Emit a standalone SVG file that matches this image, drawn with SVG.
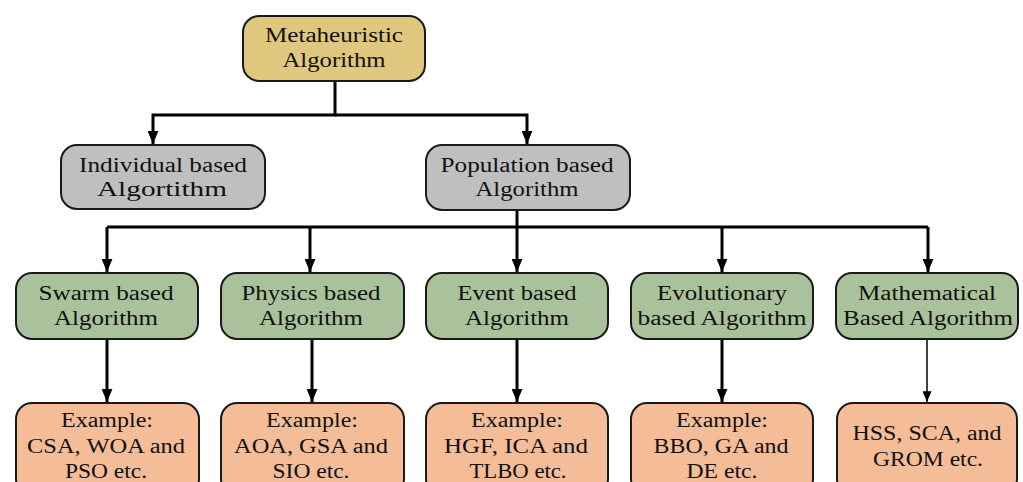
<svg xmlns="http://www.w3.org/2000/svg" width="1023" height="482" viewBox="0 0 1023 482">
<style>
  .box { stroke: #1a1a1a; stroke-width: 2; }
  .top { fill: #e0c77e; }
  .gray { fill: #bfbfbf; }
  .green { fill: #a9c29b; }
  .orange { fill: #f5bc98; }
  text { font-family: "Liberation Serif", "DejaVu Serif", serif; font-size: 20.5px; fill: #111; text-anchor: middle; }
  .conn { fill: none; stroke: #000; stroke-width: 3; }
  .thin { fill: none; stroke: #000; stroke-width: 1.5; }
</style>
<defs>
  <marker id="arr" viewBox="0 0 10 12" markerWidth="11" markerHeight="13" refX="5" refY="12" orient="auto-start-reverse" markerUnits="userSpaceOnUse">
    <path d="M0,0 L10,0 L5,12 Z" fill="#000" transform="rotate(-90 5 6)"/>
  </marker>
  <marker id="ar" viewBox="0 0 12 10" markerWidth="13" markerHeight="11" refX="12" refY="5" orient="auto" markerUnits="userSpaceOnUse">
    <path d="M0,0 L12,5 L0,10 Z" fill="#000"/>
  </marker>
  <marker id="ars" viewBox="0 0 12 10" markerWidth="11" markerHeight="9" refX="12" refY="5" orient="auto" markerUnits="userSpaceOnUse">
    <path d="M0,0 L12,5 L0,10 Z" fill="#000"/>
  </marker>
</defs>

<g id="connectors">
  <path class="conn" d="M335,81 V115 H153 V144" marker-end="url(#ar)"/>
  <path class="conn" d="M335,115 H527 V144" marker-end="url(#ar)"/>
  <path class="conn" d="M517,210 V227"/>
  <path class="conn" d="M107,227 H928"/>
  <path class="conn" d="M107,227 V272" marker-end="url(#ar)"/>
  <path class="conn" d="M310,227 V272" marker-end="url(#ar)"/>
  <path class="conn" d="M517,227 V272" marker-end="url(#ar)"/>
  <path class="conn" d="M722,227 V272" marker-end="url(#ar)"/>
  <path class="conn" d="M928,227 V272" marker-end="url(#ar)"/>
  <path class="conn" d="M107,339 V402" marker-end="url(#ar)"/>
  <path class="conn" d="M312,339 V402" marker-end="url(#ar)"/>
  <path class="conn" d="M517,339 V402" marker-end="url(#ar)"/>
  <path class="conn" d="M722,339 V402" marker-end="url(#ar)"/>
  <path class="thin" d="M927,339 V402" marker-end="url(#ars)"/>
</g>

<g id="metaheuristic">
  <rect class="box top" x="243" y="16" width="182" height="65" rx="16"/>
  <text x="334" y="42" textLength="138" lengthAdjust="spacingAndGlyphs">Metaheuristic</text>
  <text x="334" y="67" textLength="103" lengthAdjust="spacingAndGlyphs">Algorithm</text>
</g>

<g id="individual">
  <rect class="box gray" x="61" y="145" width="204" height="64" rx="16"/>
  <text x="163" y="172" textLength="168" lengthAdjust="spacingAndGlyphs">Individual based</text>
  <text x="162" y="196" textLength="130" lengthAdjust="spacingAndGlyphs">Algortithm</text>
</g>

<g id="population">
  <rect class="box gray" x="426" y="145" width="204" height="65" rx="16"/>
  <text x="527" y="172" textLength="173" lengthAdjust="spacingAndGlyphs">Population based</text>
  <text x="527" y="196" textLength="103" lengthAdjust="spacingAndGlyphs">Algorithm</text>
</g>

<g id="swarm">
  <rect class="box green" x="16" y="273" width="182" height="66" rx="16"/>
  <text x="106" y="300" textLength="135" lengthAdjust="spacingAndGlyphs">Swarm based</text>
  <text x="106" y="325" textLength="104" lengthAdjust="spacingAndGlyphs">Algorithm</text>
</g>

<g id="physics">
  <rect class="box green" x="221" y="273" width="183" height="66" rx="16"/>
  <text x="311" y="300" textLength="139" lengthAdjust="spacingAndGlyphs">Physics based</text>
  <text x="311" y="325" textLength="104" lengthAdjust="spacingAndGlyphs">Algorithm</text>
</g>

<g id="event">
  <rect class="box green" x="426" y="273" width="182" height="66" rx="16"/>
  <text x="517" y="300" textLength="119" lengthAdjust="spacingAndGlyphs">Event based</text>
  <text x="517" y="325" textLength="104" lengthAdjust="spacingAndGlyphs">Algorithm</text>
</g>

<g id="evolutionary">
  <rect class="box green" x="631" y="273" width="182" height="66" rx="16"/>
  <text x="722" y="300" textLength="130" lengthAdjust="spacingAndGlyphs">Evolutionary</text>
  <text x="722" y="325" textLength="169" lengthAdjust="spacingAndGlyphs">based Algorithm</text>
</g>

<g id="mathematical">
  <rect class="box green" x="836" y="273" width="182" height="66" rx="16"/>
  <text x="927" y="300" textLength="138" lengthAdjust="spacingAndGlyphs">Mathematical</text>
  <text x="928" y="325" textLength="170" lengthAdjust="spacingAndGlyphs">Based Algorithm</text>
</g>

<g id="swarm-examples">
  <rect class="box orange" x="16" y="403" width="183" height="92" rx="16"/>
  <text x="107" y="427" textLength="92" lengthAdjust="spacingAndGlyphs">Example:</text>
  <text x="106" y="453" textLength="158" lengthAdjust="spacingAndGlyphs">CSA, WOA and</text>
  <text x="106" y="478" textLength="82" lengthAdjust="spacingAndGlyphs">PSO etc.</text>
</g>

<g id="physics-examples">
  <rect class="box orange" x="221" y="403" width="183" height="92" rx="16"/>
  <text x="312" y="427" textLength="92" lengthAdjust="spacingAndGlyphs">Example:</text>
  <text x="311" y="453" textLength="154" lengthAdjust="spacingAndGlyphs">AOA, GSA and</text>
  <text x="311" y="478" textLength="77" lengthAdjust="spacingAndGlyphs">SIO etc.</text>
</g>

<g id="event-examples">
  <rect class="box orange" x="426" y="403" width="182" height="92" rx="16"/>
  <text x="517" y="427" textLength="92" lengthAdjust="spacingAndGlyphs">Example:</text>
  <text x="516" y="453" textLength="144" lengthAdjust="spacingAndGlyphs">HGF, ICA and</text>
  <text x="518" y="478" textLength="97" lengthAdjust="spacingAndGlyphs">TLBO etc.</text>
</g>

<g id="evolutionary-examples">
  <rect class="box orange" x="631" y="403" width="182" height="92" rx="16"/>
  <text x="722" y="427" textLength="92" lengthAdjust="spacingAndGlyphs">Example:</text>
  <text x="721" y="453" textLength="135" lengthAdjust="spacingAndGlyphs">BBO, GA and</text>
  <text x="722" y="478" textLength="71" lengthAdjust="spacingAndGlyphs">DE etc.</text>
</g>

<g id="mathematical-examples">
  <rect class="box orange" x="837" y="403" width="180" height="92" rx="16"/>
  <text x="927" y="440" textLength="149" lengthAdjust="spacingAndGlyphs">HSS, SCA, and</text>
  <text x="928" y="466" textLength="110" lengthAdjust="spacingAndGlyphs">GROM etc.</text>
</g>
</svg>
